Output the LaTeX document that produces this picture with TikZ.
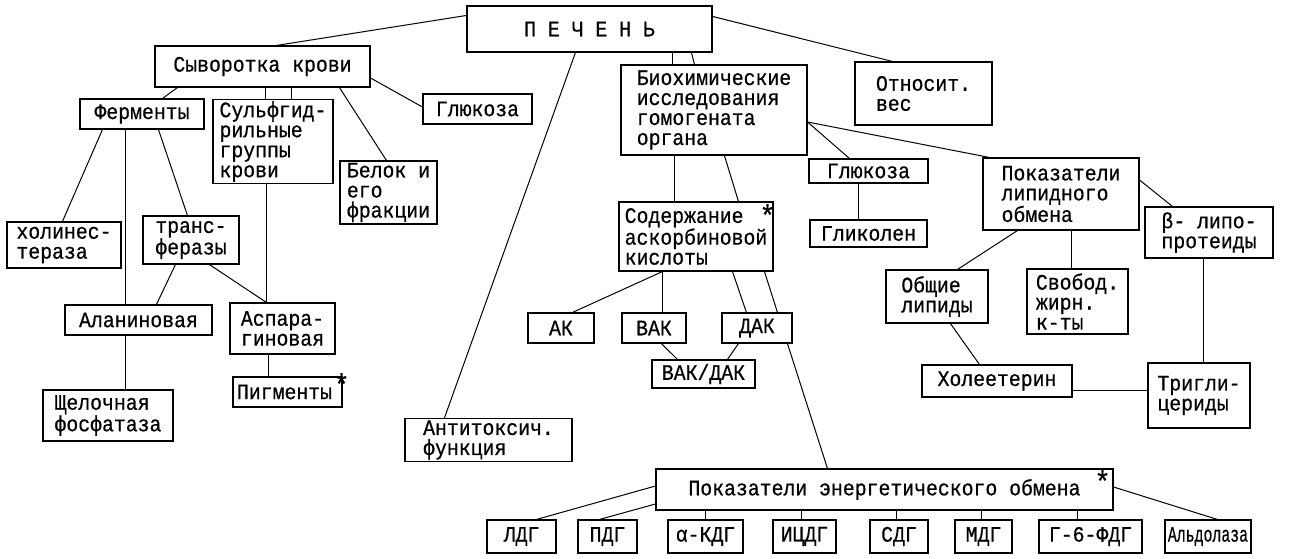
\documentclass[tikz,border=0pt]{standalone}
\usepackage{fontspec}
\usepackage{graphicx}
\newfontfamily\twf[FakeStretch=0.9,FakeBold=0.6]{Liberation Mono}
\newcommand\tw{\twf\fontsize{22pt}{20pt}\selectfont}
\newcommand\astf{\twf\fontsize{30pt}{30pt}\selectfont}
\tikzset{
  box/.style={draw, line width=1.1pt, font=\tw, align=left, inner sep=2pt},
  con/.style={line width=1pt},
  ast/.style 2 args={label={[font=\astf, inner sep=0pt, anchor=center, xshift=#1, yshift=#2]north east:\smash{*}}}
}
\begin{document}
\begin{tikzpicture}[x=1pt,y=-1pt]
\useasboundingbox (0,0) rectangle (1291,558);
% nodes
\node[box, minimum width=245pt, minimum height=46pt] (pech) at (589.5,29) {П~Е~Ч~Е~Н~Ь};
\node[box, minimum width=215pt, minimum height=41pt] (syv) at (262.5,66.5) {Сыворотка крови};
\node[box, minimum width=124pt, minimum height=30pt] (ferm) at (142,114) {Ферменты};
\node[box, minimum width=120pt, minimum height=83pt] (sulf) at (273,141.5) {Сульфгид-\\рильные\\группы\\крови};
\node[box, minimum width=97pt, minimum height=61pt] (belok) at (388.5,192.5) {Белок и\\его\\фракции};
\node[box, minimum width=109pt, minimum height=30pt] (gluca) at (477.5,109) {Глюкоза};
\node[box, minimum width=114pt, minimum height=46pt] (holin) at (64,245) {холинес-\\тераза};
\node[box, minimum width=96pt, minimum height=48pt] (trans) at (191,240) {транс-\\феразы};
\node[box, minimum width=147pt, minimum height=30pt] (alan) at (138.5,320) {Аланиновая};
\node[box, minimum width=105pt, minimum height=51pt] (aspar) at (282.5,328.5) {Аспара-\\гиновая};
\node[box, ast={-1pt}{-18.5pt}, minimum width=109pt, minimum height=30pt] (pigm) at (287.5,392) {Пигменты\hspace{6pt}};
\node[box, minimum width=130pt, minimum height=51pt] (shel) at (108,415.5) {Щелочная\\фосфатаза};
\node[box, minimum width=167pt, minimum height=42pt] (anti) at (488.5,440) {Антитоксич.\\функция};
\node[box, minimum width=186pt, minimum height=90pt] (bio) at (714,110) {Биохимические\\исследования\\гомогената\\органа};
\node[box, minimum width=137pt, minimum height=63pt] (otn) at (923.5,93.5) {Относит.\\вес};
\node[box, minimum width=119pt, minimum height=24pt] (glucb) at (868.5,171) {Глюкоза};
\node[box, minimum width=117pt, minimum height=27pt] (glik) at (868.5,233.5) {Гликолен};
\node[box, minimum width=156pt, minimum height=72pt] (lip) at (1061,194) {Показатели\\липидного\\обмена};
\node[box, minimum width=128pt, minimum height=51pt] (beta) at (1209,232.5) {β- липо-\\протеиды};
\node[box, minimum width=102pt, minimum height=53pt] (obsh) at (937,296.5) {Общие\\липиды};
\node[box, minimum width=101pt, minimum height=65pt] (svob) at (1077.5,301.5) {Свобод.\\жирн.\\к-ты};
\node[box, minimum width=150pt, minimum height=32pt] (hol) at (997,381) {Холеетерин};
\node[box, minimum width=102pt, minimum height=65pt] (trig) at (1199,395.5) {Тригли-\\цериды};
\node[box, ast={-6pt}{-24.5pt}, minimum width=154pt, minimum height=69pt] (sod) at (696,236.5) {Содержание\hspace{8pt}\\аскорбиновой\\кислоты};
\node[box, minimum width=66pt, minimum height=30pt] (ak) at (561,328) {АК};
\node[box, minimum width=64pt, minimum height=30pt] (vak) at (654,328) {ВАК};
\node[box, minimum width=70pt, minimum height=30pt] (dak) at (757,328) {ДАК};
\node[box, minimum width=103pt, minimum height=28pt] (vakdak) at (703.5,374) {ВАК/ДАК};
\node[box, ast={-11pt}{-23.5pt}, minimum width=457pt, minimum height=41pt] (energ) at (884.5,489.5) {Показатели энергетического обмена};
\node[box, minimum width=69pt, minimum height=33pt] (ldg) at (521.5,536.5) {ЛДГ};
\node[box, minimum width=59pt, minimum height=33pt] (pdg) at (607.5,536.5) {ПДГ};
\node[box, minimum width=75pt, minimum height=33pt] (akdg) at (705.5,536.5) {α-КДГ};
\node[box, minimum width=63pt, minimum height=33pt] (icdg) at (804.5,536.5) {ИЦДГ};
\node[box, minimum width=58pt, minimum height=33pt] (sdg) at (899,536.5) {СДГ};
\node[box, minimum width=57pt, minimum height=33pt] (mdg) at (983.5,536.5) {МДГ};
\node[box, minimum width=103pt, minimum height=33pt] (gfdg) at (1090.5,536.5) {Г-6-ФДГ};
\node[box, minimum width=86pt, minimum height=33pt] (ald) at (1208,536.5) {\scalebox{0.75}[1]{Альдолаза}};
% connectors
\draw[con] ([yshift=-10pt]pech.north west) -- ([xshift=122pt]syv.north west);
\draw[con] ([yshift=-11pt]pech.north east) -- ([xshift=38pt]otn.north west);
\draw[con] ([xshift=109pt]pech.south west) -- ([xshift=40pt]anti.north west);
\draw[con] ([xshift=206pt]pech.south west) -- ([xshift=52pt]bio.north west);
\draw[con] ([xshift=225pt]pech.south west) -- ([xshift=74pt]bio.north west);
\draw[con] ([xshift=23pt]syv.south west) -- ([xshift=83pt]ferm.north west);
\draw[con] ([xshift=111pt]syv.south west) -- ([xshift=53pt]sulf.north west);
\draw[con] ([xshift=137pt]syv.south west) -- ([xshift=79pt]sulf.north west);
\draw[con] ([xshift=185pt]syv.south west) -- ([xshift=47pt]belok.north west);
\draw[con] ([yshift=-11.5pt]syv.east) -- ([yshift=2pt]gluca.west);
\draw[con] ([xshift=23pt]ferm.south west) -- ([xshift=56pt]holin.north west);
\draw[con] ([xshift=46pt]ferm.south west) -- ([xshift=61pt]alan.north west);
\draw[con] ([xshift=79pt]ferm.south west) -- ([xshift=45pt]trans.north west);
\draw[con] ([xshift=33pt]trans.south west) -- ([xshift=92pt]alan.north west);
\draw[con] ([xshift=67pt]trans.south west) -- ([xshift=37pt]aspar.north west);
\draw[con] ([xshift=54pt]sulf.south west) -- ([xshift=37pt]aspar.north west);
\draw[con] ([xshift=39pt]aspar.south west) -- ([xshift=36pt]pigm.north west);
\draw[con] ([xshift=61pt]alan.south west) -- ([xshift=83pt]shel.north west);
\draw[con] ([yshift=-12pt]bio.east) -- ([xshift=41pt]glucb.north west);
\draw[con] ([yshift=-12pt]bio.east) -- ([xshift=7pt]lip.north west);
\draw[con] ([xshift=54pt]bio.south west) -- ([xshift=56pt]sod.north west);
\draw[con] ([xshift=104pt]bio.south west) -- ([xshift=120pt]sod.north west);
\draw[con] ([xshift=50pt]glucb.south west) -- ([xshift=49pt]glik.north west);
\draw[con] ([yshift=14pt]lip.east) -- ([xshift=28pt]beta.north west);
\draw[con] ([xshift=35pt]lip.south west) -- ([xshift=72pt]obsh.north west);
\draw[con] ([xshift=89pt]lip.south west) -- ([xshift=45pt]svob.north west);
\draw[con] ([xshift=65pt]obsh.south west) -- ([xshift=58pt]hol.north west);
\draw[con] ([yshift=-9pt]hol.east) -- ([yshift=5.5pt]trig.west);
\draw[con] ([xshift=59pt]beta.south west) -- ([xshift=56pt]trig.north west);
\draw[con] ([xshift=44pt]sod.south west) -- ([xshift=45pt]ak.north west);
\draw[con] ([xshift=44pt]sod.south west) -- ([xshift=41pt]vak.north west);
\draw[con] ([xshift=114pt]sod.south west) -- ([xshift=25pt]dak.north west);
\draw[con] ([xshift=146pt]sod.south west) -- ([xshift=56pt]dak.north west);
\draw[con] ([xshift=66pt]dak.south west) -- ([xshift=172pt]energ.north west);
\draw[con] ([xshift=40pt]vak.south west) -- ([xshift=26pt]vakdak.north west);
\draw[con] ([xshift=17pt]dak.south west) -- ([xshift=76pt]vakdak.north west);
\draw[con] ([yshift=3.5pt]energ.west) -- ([xshift=50pt]ldg.north west);
\draw[con] ([yshift=-14.5pt]energ.west) -- ([xshift=22pt]pdg.north west);
\draw[con] ([xshift=50pt]energ.south west) -- ([xshift=38pt]akdg.north west);
\draw[con] ([xshift=146pt]energ.south west) -- ([xshift=29pt]icdg.north west);
\draw[con] ([xshift=241pt]energ.south west) -- ([xshift=27pt]sdg.north west);
\draw[con] ([xshift=326pt]energ.south west) -- ([xshift=27pt]mdg.north west);
\draw[con] ([xshift=422pt]energ.south west) -- ([xshift=39pt]gfdg.north west);
\draw[con] ([yshift=2.5pt]energ.east) -- ([xshift=53pt]ald.north west);
\end{tikzpicture}
\end{document}
